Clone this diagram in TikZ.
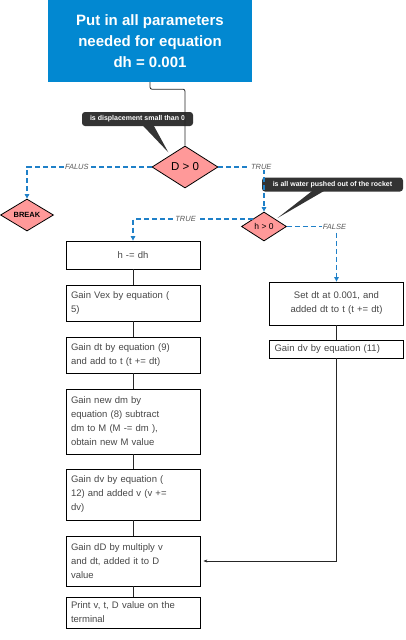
\documentclass[tikz,border=0pt]{standalone}
\usepackage{fontspec}
\setmainfont{Liberation Sans}
\usetikzlibrary{arrows.meta, positioning, shapes.geometric, calc}
\definecolor{startblue}{HTML}{0288D1}
\definecolor{decpink}{HTML}{FF9999}
\definecolor{flowblue}{HTML}{1F80C8}
\definecolor{tipgray}{HTML}{333333}
\tikzset{
  startbox/.style={rectangle, fill=startblue, text=white, inner sep=0pt,
                   minimum width=204pt, minimum height=82pt, align=center,
                   font=\fontsize{15}{21}\selectfont\bfseries},
  decision/.style={diamond, draw=black, fill=decpink, line width=0.8pt,
                   inner sep=0pt},
  stepbox/.style={rectangle, draw=black, line width=0.8pt, text=black!72,
                  inner xsep=5pt, inner ysep=0pt, text width=124pt, align=left,
                  font=\fontsize{9.5}{14}\selectfont},
  tipbox/.style={rectangle, rounded corners=3pt, fill=tipgray, text=white,
                 inner sep=0pt, minimum height=14pt,
                 font=\fontsize{7}{8}\selectfont\bfseries},
  branch/.style={draw=flowblue, line width=1.2pt, dash pattern=on 5pt off 3pt},
  brancharrow/.style={branch, -{Triangle[length=4.5pt, width=4.5pt]}},
  branchlabel/.style={font=\fontsize{7.5}{8}\selectfont\itshape, text=black!65,
                      fill=white, inner sep=0.8pt},
  plainline/.style={draw=black!85, line width=0.8pt},
}
\begin{document}
\begin{tikzpicture}[x=1pt, y=-1pt]
    \useasboundingbox (0,0) rectangle (405,640);
    \node[startbox] (start) at (150,41) {Put in all parameters\\needed for equation\\dh = 0.001};
    \node[decision, minimum width=66pt, minimum height=42pt,
          font=\fontsize{11.5}{12}\selectfont] (ddec) at (185,167) {D > 0};
    \node[decision, minimum width=53pt, minimum height=32pt,
          font=\fontsize{7.5}{8}\selectfont\bfseries] (brk) at (27,215) {BREAK};
    \node[decision, minimum width=45pt, minimum height=29pt,
          font=\fontsize{8.5}{9}\selectfont] (hdec) at (264,226.5) {h > 0};
    % Callouts
    \node[tipbox, minimum width=111pt] (tipd) at (137.5,119) {is displacement small than 0};
    \node[tipbox, minimum width=141pt] (tiph) at (332.5,184.5) {is all water pushed out of the rocket};
    \fill[tipgray] ($(tipd.south)+(5,-1)$) -- ($(tipd.south)+(16,-1)$)
        -- ($(ddec.north west)+(0,-4)$) -- cycle;
    \fill[tipgray] ($(tiph.south)+(-20,-1)$) -- ($(tiph.south)+(-8,-1)$)
        -- ($(hdec.north east)+(2,-1)$) -- cycle;
    % Left column
    \node[stepbox, align=center, minimum height=28pt] (s1) at (133,255) {h -= dh};
    \node[stepbox, minimum height=36pt] (s2) at (133,303) {Gain Vex by equation (\\5)};
    \node[stepbox, minimum height=36pt] (s3) at (133,355) {Gain dt by equation (9)\\and add to t (t += dt)};
    \node[stepbox, minimum height=65pt] (s4) at (133,421.5) {Gain new dm by\\equation (8) subtract\\dm to M (M -= dm ),\\obtain new M value};
    \node[stepbox, minimum height=51pt] (s5) at (133,494.5) {Gain dv by equation (\\12) and added v (v +=\\dv)};
    \node[stepbox, minimum height=50pt] (s6) at (133,561) {Gain dD by multiply v\\and dt, added it to D\\value};
    \node[stepbox, minimum height=31pt] (s7) at (133,612.5) {Print v, t, D value on the\\terminal};
    % Right column
    \node[stepbox, align=center, minimum height=43pt] (r1) at (336.5,303.5) {Set dt at 0.001, and\\added dt to t (t += dt)};
    \node[stepbox, minimum height=18pt] (r2) at (336.5,349) {Gain dv by equation (11)};
    % Connectors
    \draw[plainline, rounded corners=2pt] (start.south) -- ++(0,7) -| (ddec.north);
    \draw[brancharrow] (ddec.west) -| (brk.north)
        node[branchlabel, pos=0.3] {FALUS};
    \draw[brancharrow] (ddec.east) -| (hdec.north)
        node[branchlabel, pos=0.47] {TRUE};
    \draw[brancharrow] (hdec.north west) -| (s1.north)
        node[branchlabel, pos=0.28] {TRUE};
    \draw[brancharrow] (hdec.east) -| (r1.north)
        node[branchlabel, pos=0.48] {FALSE};
    \foreach \a/\b in {s1/s2, s2/s3, s3/s4, s4/s5, s5/s6, s6/s7, r1/r2}
        \draw[plainline] (\a) -- (\b);
    \draw[plainline, -{Stealth[length=4pt, width=3pt]}, shorten >=3pt] (r2.south) |- (s6.east);
\end{tikzpicture}
\end{document}
